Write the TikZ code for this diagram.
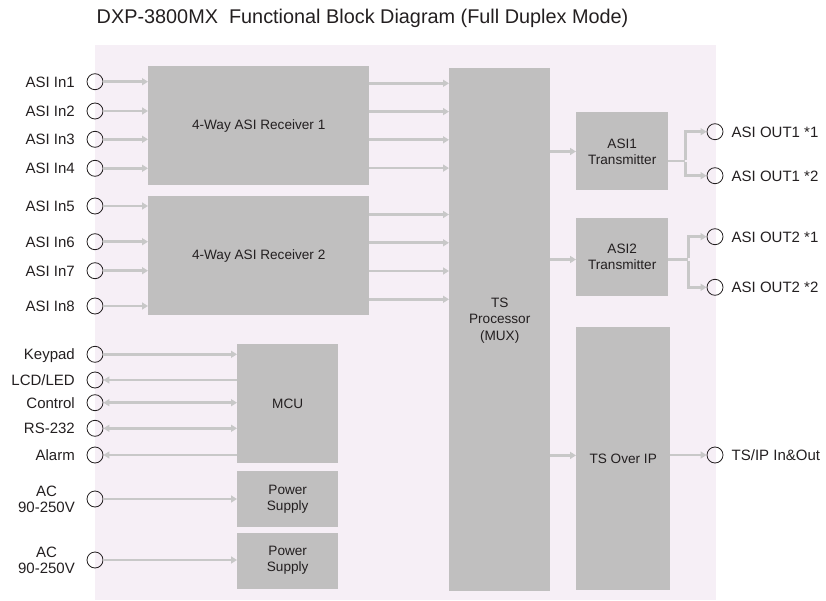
\documentclass[tikz,border=0pt]{standalone}
\usepackage{fontspec}
\setmainfont{Liberation Sans}
\usetikzlibrary{arrows.meta,calc}
\definecolor{bgpink}{RGB}{246,239,246}
\definecolor{boxgray}{RGB}{192,191,191}
\definecolor{arrgray}{RGB}{200,200,200}
\definecolor{txt}{RGB}{35,31,32}
\tikzset{
  blk/.style={fill=boxgray, draw=none, inner sep=0pt, anchor=north west, align=center, text=txt, font=\fontsize{13.6}{16}\selectfont},
  port/.style={circle, draw=txt, line width=0.8pt, minimum size=16pt, inner sep=0pt},
  lbl/.style={inner sep=0pt, text=txt, font=\fontsize{15}{16.5}\selectfont, text height=10.8pt, text depth=0pt},
  acl/.style={inner sep=0pt, text=txt, font=\fontsize{15}{16}\selectfont, align=center},
  con/.style={draw=arrgray, line width=2.6pt},
  arr/.style={con, -{Triangle[length=6pt,width=7pt]}},
  barr/.style={con, {Triangle[length=6pt,width=7pt]}-{Triangle[length=6pt,width=7pt]}},
  larr/.style={con, {Triangle[length=6pt,width=7pt]}-},
}
\begin{document}
\begin{tikzpicture}[x=1pt,y=-1pt]
\useasboundingbox (0,0) rectangle (826,601);
\fill[bgpink] (95,45) rectangle (716,600);
\node[anchor=base west, inner sep=0pt, text=txt, font=\fontsize{19.85}{22}\selectfont] (title) at (96.5,24) {DXP-3800MX\ \ Functional Block Diagram (Full Duplex Mode)};

% blocks
\node[blk, minimum width=221pt, minimum height=119pt] (rx1) at (148,66) {4-Way ASI Receiver 1};
\node[blk, minimum width=221pt, minimum height=119pt] (rx2) at (148,196) {4-Way ASI Receiver 2};
\node[blk, minimum width=101pt, minimum height=523pt] (ts) at (449,68) {};
\node[text=txt, align=center, inner sep=0pt, font=\fontsize{13.6}{16.5}\selectfont] (tslbl) at ([yshift=9.5pt]ts.center) {TS\\Processor\\(MUX)};
\node[blk, minimum width=92pt, minimum height=78pt] (tx1) at (576,112.3) {ASI1\\Transmitter};
\node[blk, minimum width=92pt, minimum height=78pt] (tx2) at (576,217.5) {ASI2\\Transmitter};
\node[blk, minimum width=94pt, minimum height=263pt] (tsip) at (576,327) {TS Over IP};
\node[blk, minimum width=101pt, minimum height=119pt] (mcu) at (237,344) {MCU};
\node[blk, minimum width=101pt, minimum height=56pt] (ps1) at (237,471) {Power\\Supply};
\node[blk, minimum width=101pt, minimum height=56pt] (ps2) at (237,532.5) {Power\\Supply};

% left ports
\foreach \n/\y/\t in {i1/81.7/{ASI In1}, i2/111/{ASI In2}, i3/139.3/{ASI In3}, i4/168.3/{ASI In4},
                      i5/206/{ASI In5}, i6/241.7/{ASI In6}, i7/270.7/{ASI In7}, i8/306/{ASI In8},
                      kp/354.3/{Keypad}, lcd/380/{LCD{/}LED}, ctl/402.7/{Control}, rs/428.3/{RS-232}, alm/455/{Alarm}}{
  \node[port] (\n) at (95,\y) {};
  \node[lbl, anchor=east] (\n l) at (75,\y) {\t};
}
\node[port] (ac1) at (95,499) {};
\node[acl, anchor=east] (ac1l) at (75,499) {AC\\90-250V};
\node[port] (ac2) at (95,560) {};
\node[acl, anchor=east] (ac2l) at (75,560) {AC\\90-250V};

% right ports
\foreach \n/\y/\t in {o11/131.7/{ASI OUT1 *1}, o12/175.7/{ASI OUT1 *2}, o21/236.7/{ASI OUT2 *1}, o22/287.3/{ASI OUT2 *2}}{
  \node[port] (\n) at (715,\y) {};
  \node[lbl, anchor=west] (\n l) at (731.5,\y) {\t};
}
\node[port] (oip) at (715,455) {};
\node[lbl, anchor=west] (oipl) at (731.5,455) {TS/IP In\&Out};

% input connectors
\foreach \n in {i1,i2,i3,i4}{ \draw[arr] (\n) -- (\n -| rx1.west); }
\foreach \n in {i5,i6,i7,i8}{ \draw[arr] (\n) -- (\n -| rx2.west); }
% receiver outputs
\foreach \d in {42.4,14.1,-14.1,-42.4}{
  \draw[arr] ([yshift=\d pt]rx1.east) -- ([yshift=\d pt]rx1.east -| ts.west);
  \draw[arr] ([yshift=\d pt-1.2pt]rx2.east) -- ([yshift=\d pt-1.2pt]rx2.east -| ts.west);
}
% TS to transmitters
\coordinate (t2in) at ([yshift=-2.8pt]tx2.west);
\coordinate (ipin) at ([yshift=3.3pt]tsip.west);
\draw[arr] (ts.east |- tx1.west) -- (tx1.west);
\draw[arr] (ts.east |- t2in) -- (t2in);
\draw[arr] (ts.east |- ipin) -- (ipin);
% transmitter outputs
\draw[con] ([yshift=-9.7pt]tx1.east) -- ++(17,0) coordinate (b1);
\draw[arr] ([yshift=1.3pt]b1) |- (o11);
\draw[arr] ([yshift=-1.3pt]b1) |- (o12);
\draw[con] ([yshift=-2.8pt]tx2.east) -- ++(20,0) coordinate (b2);
\draw[arr] ([yshift=1.3pt]b2) |- (o21);
\draw[arr] ([yshift=-1.3pt]b2) |- (o22);
\draw[arr] (oip -| tsip.east) -- (oip);
% MCU
\draw[arr] (kp) -- (kp -| mcu.west);
\draw[larr] (lcd) -- (lcd -| mcu.west);
\draw[barr] (ctl) -- (ctl -| mcu.west);
\draw[barr] (rs) -- (rs -| mcu.west);
\draw[larr] (alm) -- (alm -| mcu.west);
\draw[arr] (ac1) -- (ac1 -| ps1.west);
\draw[arr] (ac2) -- (ac2 -| ps2.west);
\end{tikzpicture}
\end{document}
